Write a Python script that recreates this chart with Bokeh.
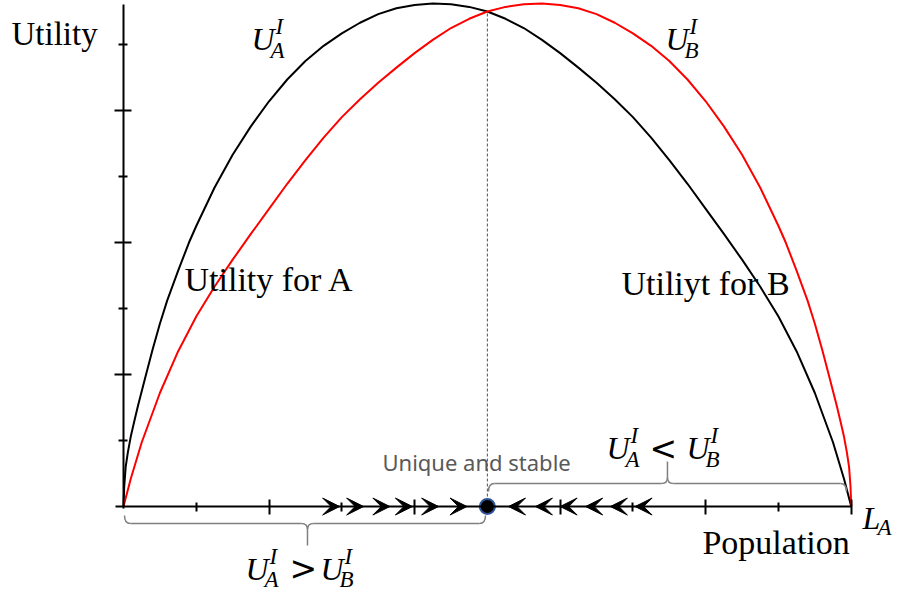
from bokeh.plotting import figure
from bokeh.models import Range1d, FixedTicker, ColumnDataSource, Arrow, VeeHead, CustomJSTickFormatter
from bokeh.core.properties import value
from bokeh.embed import file_html
from bokeh.resources import INLINE

# ---------------- data ----------------
# Utility of A (black) as a function of population L_A
ua_x = [0, 0.01, 0.03, 0.06, 0.1, 0.15, 0.2, 0.3, 0.4, 0.5, 0.6, 0.75, 0.9,
        1.0, 1.25, 1.5, 1.75, 2.0, 2.25, 2.5, 2.75, 3.0, 3.25,
        3.5, 3.75, 4.0, 4.25, 4.5, 4.75, 5.0, 5.25, 5.5, 5.75,
        6.0, 6.25, 6.5, 6.75, 7.0, 7.25, 7.5, 7.75, 8.0, 8.25,
        8.5, 8.75, 9.0, 9.25, 9.5, 9.75, 9.9, 10]
ua_y = [0, 0.30, 0.60, 0.82, 1.06, 1.30, 1.53, 1.96, 2.38, 2.77, 3.12, 3.57, 4.00,
        4.25, 4.83, 5.33, 5.76, 6.14, 6.47, 6.75, 6.98, 7.17, 7.33,
        7.46, 7.55, 7.60, 7.62, 7.61, 7.57, 7.50, 7.39, 7.25, 7.07,
        6.87, 6.65, 6.42, 6.17, 5.90, 5.59, 5.25, 4.89, 4.51, 4.13,
        3.74, 3.33, 2.88, 2.35, 1.72, 0.97, 0.42, 0]
# Utility of B (red)
ub_x = [0, 0.1, 0.25, 0.5, 0.75, 1.0, 1.25, 1.5, 1.75, 2.0,
        2.25, 2.5, 2.75, 3.0, 3.25, 3.5, 3.75, 4.0, 4.25, 4.5,
        4.75, 5.0, 5.25, 5.5, 5.75, 6.0, 6.25, 6.5, 6.75, 7.0,
        7.25, 7.5, 7.75, 8.0, 8.25, 8.5, 8.75, 9.0, 9.1, 9.25,
        9.4, 9.5, 9.6, 9.7, 9.8, 9.85, 9.9, 9.94, 9.97, 9.99, 10]
ub_y = [0, 0.42, 0.97, 1.72, 2.35, 2.88, 3.33, 3.74, 4.13, 4.51,
        4.89, 5.25, 5.59, 5.90, 6.17, 6.42, 6.65, 6.87, 7.07, 7.25,
        7.39, 7.50, 7.57, 7.61, 7.62, 7.60, 7.55, 7.46, 7.33, 7.17,
        6.98, 6.75, 6.47, 6.14, 5.76, 5.33, 4.83, 4.25, 4.00, 3.57,
        3.12, 2.77, 2.38, 1.96, 1.53, 1.30, 1.06, 0.82, 0.60, 0.30, 0]

x_major = [2, 4, 6, 8, 10]
x_minor = [1, 3, 5, 7, 9]
y_major = [2, 4, 6]
y_minor = [1, 3, 5, 7]

arrows_right = [2.97, 3.30, 3.66, 3.97, 4.33, 4.72]   # tips of arrows pointing right
arrows_left = [5.29, 5.66, 6.00, 6.35, 6.69, 7.03]    # tips of arrows pointing left

eq_x = [5.0]
eq_y = [0.0]
cross_y = 7.50

# ---------------- figure ----------------
W, H = 895, 594
p = figure(width=W, height=H, x_range=Range1d(-1.690, 10.608), y_range=Range1d(-1.333, 7.667),
           output_backend="svg", toolbar_location=None, min_border=0)
p.grid.visible = False
p.outline_line_color = None
p.background_fill_color = "white"

blank = CustomJSTickFormatter(code="return ''")
for ax, maj, mino, bnds in ((p.xaxis[0], x_major, x_minor, (-0.11, 10.0)),
                             (p.yaxis[0], y_major, y_minor, (-0.03, 7.60))):
    ax.fixed_location = 0
    ax.ticker = FixedTicker(ticks=maj, minor_ticks=mino)
    ax.bounds = bnds
    ax.formatter = blank
    ax.major_label_text_font_size = "0px"
    ax.axis_line_width = 2
    ax.axis_line_color = "black"
    ax.major_tick_line_width = 2
    ax.minor_tick_line_width = 2
    ax.major_tick_line_color = "black"
    ax.minor_tick_line_color = "black"
p.xaxis.major_tick_in = 7
p.xaxis.major_tick_out = 8
p.xaxis.minor_tick_in = 4
p.xaxis.minor_tick_out = 5
p.yaxis.major_tick_in = 8
p.yaxis.major_tick_out = 9
p.yaxis.minor_tick_in = 4
p.yaxis.minor_tick_out = 5

# curves
p.line(ua_x, ua_y, line_color="black", line_width=2, line_join="round")
p.line(ub_x, ub_y, line_color="#ff0000", line_width=2, line_join="round")

# dashed vertical line at the equilibrium
p.segment(x0=eq_x, y0=eq_y, x1=eq_x, y1=[cross_y], line_color="#505050", line_width=1, line_dash="3 2")

# arrows on the axis
head = 17
step = head / 72.78
src_r = ColumnDataSource(dict(xs=[t - step for t in arrows_right], xe=arrows_right,
                              y=[0.0] * len(arrows_right)))
src_l = ColumnDataSource(dict(xs=[t + step for t in arrows_left], xe=arrows_left,
                              y=[0.0] * len(arrows_left)))
for src in (src_r, src_l):
    p.add_layout(Arrow(end=VeeHead(size=head, fill_color="black", line_color="black", line_width=1),
                       x_start="xs", y_start="y", x_end="xe", y_end="y", source=src,
                       line_alpha=0))

# equilibrium point
p.scatter(eq_x, eq_y, size=15, fill_color="black", line_color="#2f5597", line_width=2)

# ---------------- helpers (reference pixels -> data) ----------------
def dx(px):
    return (px - 123.0) / 72.78

def dy(py):
    return (506.0 - py) / 66.0

def brace(x0, x1, ye, yb, xt, yt, color="#7f7f7f"):
    s = 1 if yt > yb else -1
    r = 6
    q = dict(line_color=color, line_width=1.5)
    p.quadratic(x0=[dx(x0)], y0=[dy(ye)], x1=[dx(x0 + r)], y1=[dy(yb)], cx=[dx(x0)], cy=[dy(yb)], **q)
    p.segment(x0=[dx(x0 + r)], y0=[dy(yb)], x1=[dx(xt - r)], y1=[dy(yb)], **q)
    p.quadratic(x0=[dx(xt - r)], y0=[dy(yb)], x1=[dx(xt)], y1=[dy(yb + s * r)], cx=[dx(xt)], cy=[dy(yb)], **q)
    p.segment(x0=[dx(xt)], y0=[dy(yb + s * r)], x1=[dx(xt)], y1=[dy(yt)], **q)
    p.quadratic(x0=[dx(xt + r)], y0=[dy(yb)], x1=[dx(xt)], y1=[dy(yb + s * r)], cx=[dx(xt)], cy=[dy(yb)], **q)
    p.segment(x0=[dx(xt + r)], y0=[dy(yb)], x1=[dx(x1 - r)], y1=[dy(yb)], **q)
    p.quadratic(x0=[dx(x1 - r)], y0=[dy(yb)], x1=[dx(x1)], y1=[dy(ye)], cx=[dx(x1)], cy=[dy(yb)], **q)

brace(124, 485, 515, 523, 307, 545)
brace(488, 846, 491, 483, 667, 461)

# ---------------- texts ----------------
serif = "Liberation Serif"

def label(txt, px, py, size, style="normal", color="black", font=serif):
    p.text(x=[dx(px)], y=[dy(py)], text=[txt], text_font=value(font),
           text_font_size=value(f"{size}px"), text_font_style=style, text_color=color,
           text_baseline="alphabetic", text_align="left")

label("Utility", 11, 33, 33)
label("Utility for A", 184, 279, 34)
label("Utiliyt for B", 621, 283, 34)
label("Population", 702, 542, 34)
label("Unique and stable", 382, 461, 22, color="#595959", font="Noto Sans")

def uterm(s, b, sub, dsub=12):
    label("U", s - 2, b, 32, "italic")
    label("I", s + 22, b - 12, 23, "italic")
    label(sub, s + 17, b + dsub, 23, "italic")

uterm(253, 38, "A")
uterm(667, 38, "B")
# U_A^I > U_B^I
uterm(247, 568, "A", 11)
label(">", 289, 568, 33, font="DejaVu Sans")
uterm(322, 568, "B", 11)
# U_A^I < U_B^I
uterm(608, 447, "A")
label("<", 649, 448, 33, font="DejaVu Sans")
uterm(688, 447, "B")
# L_A
label("L", 862, 517, 32, "italic")
label("A", 877, 527, 23, "italic")

open("out.html", "w").write(file_html(p, INLINE))
